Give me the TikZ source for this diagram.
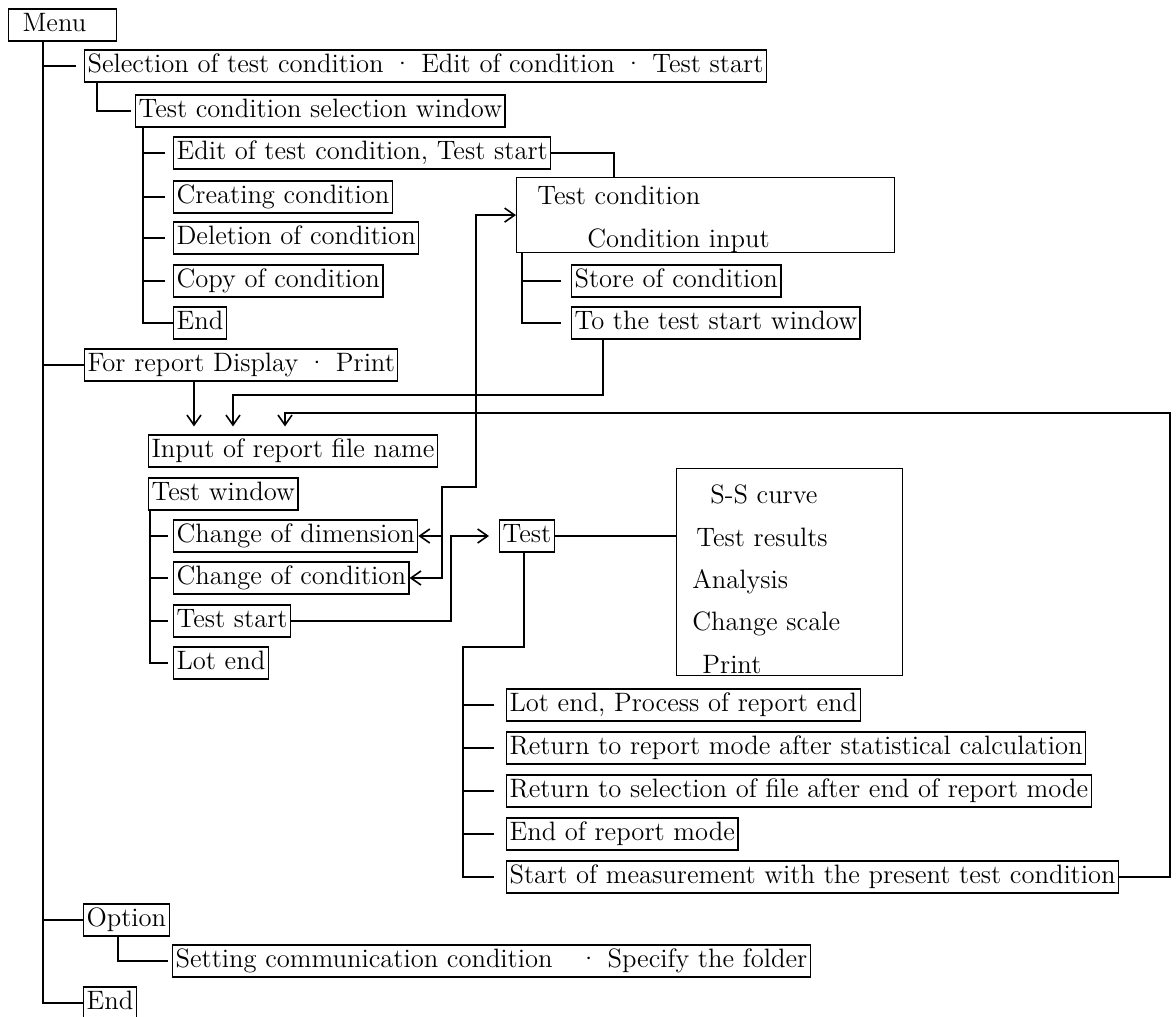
\documentclass[tikz,border=0pt]{standalone}
\usepackage{tikz}
\usetikzlibrary{arrows.meta, calc}
\tikzset{
  box/.style={rectangle, draw=black, line width=0.6pt, inner xsep=1.5pt, inner ysep=0pt, text height=9.8pt, text depth=3.5pt, minimum height=16pt, anchor=west, font=\fontsize{13.3}{16}\selectfont},
  frame/.style={rectangle, draw=black, line width=0.6pt, anchor=north west},
  txt/.style={anchor=base west, inner sep=0pt, font=\fontsize{13.3}{16}\selectfont},
  link/.style={line width=0.8pt},
  arrow/.style={line width=0.8pt, -{Straight Barb[length=5pt,width=7pt]}},
  dbl/.style={line width=0.8pt, {Straight Barb[length=5pt,width=7pt]}-{Straight Barb[length=5pt,width=7pt]}}
}
\begin{document}
\begin{tikzpicture}[x=0.5pt, y=-0.5pt]
  \useasboundingbox (0,0) rectangle (1176,1016);

  % --- Menu and main branches ---
  \node (menu) [box, text width=40pt, align=left, inner xsep=7pt] at (8,25) {Menu};
  \node (sel) [box] at (84,66) {Selection of test condition \textperiodcentered\ Edit of condition \textperiodcentered\ Test start};
  \node (rep) [box] at (84,365) {For report Display \textperiodcentered\ Print};
  \node (opt) [box] at (83,920) {Option};
  \node (endm) [box] at (83,1003) {End};

  \coordinate (trunk) at (43,0);
  \draw [link] (menu.south -| trunk) |- (endm.west);
  \draw [link, shorten >=4pt] (trunk |- sel.west) -- (sel.west);
  \draw [link] (trunk |- rep.west) -- (rep.west);
  \draw [link] (trunk |- opt.west) -- (opt.west);

  % --- Test condition selection ---
  \node (tcsw) [box] at (135,111) {Test condition selection window};
  \node (edit) [box] at (173,153) {Edit of test condition, Test start};
  \node (creat) [box] at (173,197) {Creating condition};
  \node (del) [box] at (173,238) {Deletion of condition};
  \node (copy) [box] at (173,281) {Copy of condition};
  \node (endc) [box] at (173,323) {End};

  \draw [link, shorten >=2pt] ([xshift=6.5pt]sel.south west) |- (tcsw.west);
  \coordinate (sub1) at (143,0);
  \draw [link] (tcsw.south -| sub1) |- (endc.west);
  \draw [link, shorten >=4pt] (sub1 |- edit.west) -- (edit.west);
  \draw [link, shorten >=4pt] (sub1 |- creat.west) -- (creat.west);
  \draw [link, shorten >=4pt] (sub1 |- del.west) -- (del.west);
  \draw [link, shorten >=4pt] (sub1 |- copy.west) -- (copy.west);

  % --- Test condition input ---
  \node (tcond) [frame, minimum width=189pt, minimum height=37.5pt] at (516,177) {};
  \node (tc1) [txt] at (537,205) {Test condition};
  \node (tc2) [txt] at (587,248) {Condition input};
  \node (store) [box] at (571,281) {Store of condition};
  \node (tostart) [box] at (571,323) {To the test start window};

  \coordinate (tcj) at (614,0);
  \draw [link] (edit.east) -| (tcond.north -| tcj);
  \coordinate (sub2) at (522,0);
  \draw [link, shorten >=5pt] (tcond.south -| sub2) |- (tostart.west);
  \draw [link, shorten >=5pt] (sub2 |- store.west) -- (store.west);

  % --- Report ---
  \node (input) [box] at (148,451) {Input of report file name};
  \node (twin) [box] at (148,494) {Test window};
  \node (chdim) [box] at (173,536) {Change of dimension};
  \node (chcond) [box] at (173,578) {Change of condition};
  \node (tstart) [box] at (173,621) {Test start};
  \node (lotend) [box] at (173,663) {Lot end};

  \coordinate (in1) at (194,0);
  \coordinate (in2) at (233,395);
  \coordinate (in3) at (285,413);
  \coordinate (loopr) at (1170,0);
  \draw [arrow, shorten >=4pt] (rep.south -| in1) -- (input.north -| in1);
  \draw [arrow, shorten >=4pt] ([xshift=16pt]tostart.south west) |- (in2) -- (in2 |- input.north);

  \coordinate (sub3) at (150,0);
  \draw [link, shorten >=2.5pt] (twin.south -| sub3) |- (lotend.west);
  \draw [link, shorten >=2.5pt] (sub3 |- chdim.west) -- (chdim.west);
  \draw [link, shorten >=2.5pt] (sub3 |- chcond.west) -- (chcond.west);
  \draw [link, shorten >=2.5pt] (sub3 |- tstart.west) -- (tstart.west);

  % change of dimension / condition <-> test condition
  \coordinate (bus1) at (476,487);
  \coordinate (bus2) at (442,0);
  \draw [dbl] (chcond.east) -- (bus2 |- chcond.east) -- (bus2 |- bus1) -- (bus1) -- (bus1 |- tcond.west) -- (tcond.west);
  \draw [arrow] (bus2 |- chdim.east) -- (chdim.east);

  % --- Test ---
  \node (test) [box] at (499,536) {Test};
  \node (res) [frame, minimum width=113pt, minimum height=103.5pt] at (676,468) {};
  \node (r1) [txt] at (710,503) {S-S curve};
  \node (r2) [txt] at (696,546) {Test results};
  \node (r3) [txt] at (692,588) {Analysis};
  \node (r4) [txt] at (692,630) {Change scale};
  \node (r5) [txt] at (702,673) {Print};

  \coordinate (tsj) at (451,0);
  \draw [arrow, shorten >=5pt] (tstart.east) -| (tsj |- test.west) -- (test.west);
  \draw [link] (test.east) -- (test.east -| res.west);

  \node (lotp) [box] at (506,705) {Lot end, Process of report end};
  \node (retst) [box] at (506,748) {Return to report mode after statistical calculation};
  \node (retsel) [box] at (506,791) {Return to selection of file after end of report mode};
  \node (endrep) [box] at (506,834) {End of report mode};
  \node (startm) [box] at (506,877) {Start of measurement with the present test condition};

  \coordinate (sub4) at (463,647);
  \draw [link, shorten >=6pt] ([xshift=-1.5pt]test.south) |- (sub4) |- (startm.west);
  \draw [link, shorten >=6pt] (sub4 |- lotp.west) -- (lotp.west);
  \draw [link, shorten >=6pt] (sub4 |- retst.west) -- (retst.west);
  \draw [link, shorten >=6pt] (sub4 |- retsel.west) -- (retsel.west);
  \draw [link, shorten >=6pt] (sub4 |- endrep.west) -- (endrep.west);
  \draw [arrow, shorten >=4pt] (startm.east) -| (loopr |- in3) -- (in3) -- (in3 |- input.north);

  % --- Option ---
  \node (setting) [box] at (172,961) {Setting communication condition\ \ \ \textperiodcentered\ Specify the folder};
  \coordinate (sub5) at (118,0);
  \draw [link, shorten >=2pt] (opt.south -| sub5) |- (setting.west);
\end{tikzpicture}
\end{document}
